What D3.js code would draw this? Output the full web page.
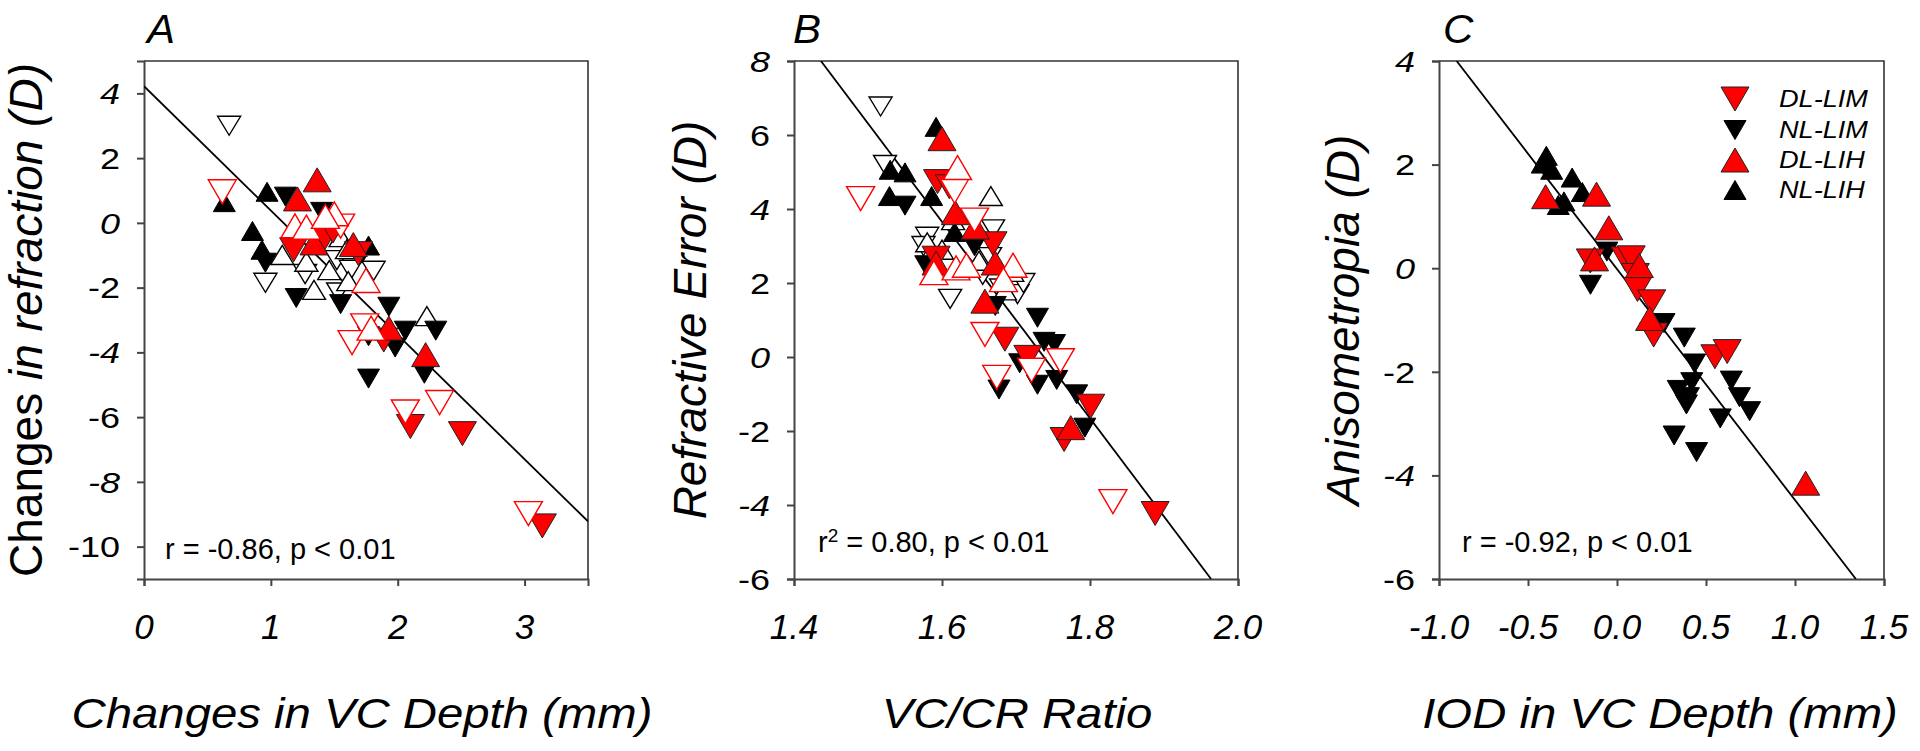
<!DOCTYPE html>
<html><head><meta charset="utf-8">
<script src="https://cdn.jsdelivr.net/npm/d3@7"></script>
<style>
body{margin:0;background:#fff;}
svg{display:block;}
text{font-family:"Liberation Sans",Arial,Helvetica,sans-serif;fill:#000;}
</style>
</head><body>
<svg id="chart" width="1920" height="751"></svg>
<script>
// ---------- DATA ----------
// Panel A: Changes in VC depth (mm) vs changes in refraction (D)
const A_DL_LIM   = [[1.18,-0.83],[1.42,-0.5],[1.49,-0.25],[1.69,-0.95],[1.89,-3.62],[2.10,-6.29],[2.51,-6.51],[3.14,-9.36]];
const A_NL_LIM   = [[1.115,0.81],[1.40,0.34],[0.957,-1.23],[1.20,-2.32],[1.55,-2.51],[1.93,-2.59],[2.06,-3.33],[1.98,-3.85],[1.77,-3.5],[1.77,-4.81],[2.30,-3.33],[2.21,-4.66],[1.72,-0.95]];
const A_DL_LIH   = [[1.365,1.33],[1.21,0.74],[1.34,-0.62],[1.65,-0.67],[1.93,-3.25],[2.22,-4.07]];
const A_NL_LIH   = [[0.633,0.64],[0.97,0.96],[0.855,-0.25],[0.93,-0.83],[1.77,-0.7]];
const A_DL_LIM_o = [[0.617,0.96],[1.55,-0.1],[1.74,-3.18],[1.64,-3.70],[2.06,-5.84],[2.33,-5.55],[3.03,-8.98]];
const A_NL_LIM_o = [[0.671,3.0],[1.27,-1.58],[0.957,-1.85],[1.81,-1.48],[1.52,-1.15],[1.63,-1.45],[1.53,-2.15]];
const A_DL_LIH_o = [[1.19,-0.09],[1.28,-0.13],[1.50,0.28],[1.43,0.2],[1.75,-1.78],[1.79,-3.25]];
const A_NL_LIH_o = [[1.09,-0.99],[1.28,-1.2],[1.46,-1.46],[1.34,-2.07],[2.23,-2.88],[1.61,-1.8],[1.55,-0.44],[1.60,-0.81]];
const A_fit = [[0,4.22],[3.5,-9.22]];

// Panel B: VC/CR ratio vs refractive error (D)
const B_DL_LIM   = [[1.594,4.74],[1.61,4.6],[1.669,3.06],[1.592,2.67],[1.685,0.48],[1.716,-0.01],[1.801,-1.33],[1.765,-2.23],[1.888,-4.23]];
const B_NL_LIM   = [[1.550,4.09],[1.644,2.99],[1.578,2.48],[1.672,1.38],[1.729,1.06],[1.738,0.41],[1.752,0.35],[1.705,-0.17],[1.729,-0.75],[1.755,-0.62],[1.677,-0.88],[1.782,-1.01],[1.793,-1.91]];
const B_DL_LIH   = [[1.600,5.9],[1.618,3.9],[1.645,3.51],[1.592,2.54],[1.672,2.54],[1.658,1.51],[1.774,-1.91]];
const B_NL_LIH   = [[1.592,6.22],[1.530,5.06],[1.550,4.99],[1.529,4.35],[1.586,4.35],[1.617,3.38]];
const B_DL_LIM_o = [[1.49,4.28],[1.617,4.48],[1.644,3.70],[1.658,0.61],[1.721,-0.36],[1.760,-0.1],[1.674,-0.55],[1.831,-3.91]];
const B_NL_LIM_o = [[1.517,6.77],[1.523,5.19],[1.669,3.45],[1.655,2.22],[1.702,1.70],[1.611,1.57],[1.58,3.25],[1.575,3.0],[1.68,1.85],[1.665,2.7],[1.71,2.0]];
const B_DL_LIH_o = [[1.621,5.12],[1.589,2.28],[1.619,2.41],[1.633,2.48],[1.696,2.48],[1.683,2.09]];
const B_NL_LIH_o = [[1.666,4.35],[1.65,2.6],[1.58,3.1],[1.615,3.7],[1.685,1.8],[1.6,2.9],[1.695,2.3]];
const B_fit = [[1.4364,8],[1.9636,-6]];

// Panel C: IOD in VC depth (mm) vs anisometropia (D)
const C_DL_LIM = [[-0.15,0.14],[0.046,0.18],[0.08,0.2],[0.103,-0.14],[0.115,-0.41],[0.195,-0.65],[0.206,-1.29],[0.55,-1.71],[0.619,-1.61]];
const C_NL_LIM = [[-0.057,0.32],[-0.149,-0.32],[0.264,-1.06],[0.378,-1.34],[0.436,-1.84],[0.344,-2.35],[0.401,-2.49],[0.39,-2.63],[0.321,-3.23],[0.447,-3.55],[0.642,-2.17],[0.688,-2.49],[0.745,-2.76],[0.58,-2.9],[0.42,-2.2]];
const C_DL_LIH = [[-0.401,1.38],[-0.115,1.43],[-0.046,0.78],[-0.126,0.18],[0.126,0.05],[0.183,-0.97],[1.06,-4.15]];
const C_NL_LIH = [[-0.397,2.17],[-0.42,2.02],[-0.367,1.9],[-0.252,1.75],[-0.195,1.47],[-0.298,1.29],[-0.33,1.22]];
const C_fit = [[-0.901,4],[1.342,-6]];

// Ticks
const A_xTicks = [0,1,2,3];
const A_yTicks = [4,2,0,-2,-4,-6,-8,-10];
const B_xTicks = [1.4,1.6,1.8,2.0];
const B_yTicks = [8,6,4,2,0,-2,-4,-6];
const C_xTicks = [-1.0,-0.5,0.0,0.5,1.0,1.5];
const C_yTicks = [4,2,0,-2,-4,-6];

const legendNames = ["DL-LIM","NL-LIM","DL-LIH","NL-LIH"];

// ---------- DRAWING ----------
const svg = d3.select("#chart");
const TOP = 61, BOT = 579;
const hy = s => s.replace("\u2212","-");

const panels = [
  {key:"A", left:144, right:588, xd:[0,3.5], yd:[-11,5], xt:A_xTicks, yt:A_yTicks, xfmt:d3.format("d"),
   series:{rd:A_DL_LIM, bd:A_NL_LIM, ru:A_DL_LIH, bu:A_NL_LIH, ord:A_DL_LIM_o, obd:A_NL_LIM_o, oru:A_DL_LIH_o, obu:A_NL_LIH_o},
   fit:A_fit, xtitle:"Changes in VC Depth (mm)", xtitleX:362,
   ytitle:[["Changes ",false],["in refraction (D)",true]], ytitleX:42,
   stat:{x:165,y:559,parts:[["r = -0.86, p < 0.01",false]]}, labelX:147},
  {key:"B", left:794, right:1238, xd:[1.4,2.0], yd:[-6,8], xt:B_xTicks, yt:B_yTicks, xfmt:d3.format(".1f"),
   series:{rd:B_DL_LIM, bd:B_NL_LIM, ru:B_DL_LIH, bu:B_NL_LIH, ord:B_DL_LIM_o, obd:B_NL_LIM_o, oru:B_DL_LIH_o, obu:B_NL_LIH_o},
   fit:B_fit, xtitle:"VC/CR Ratio", xtitleX:1017,
   ytitle:[["Refractive Error (D)",true]], ytitleX:706,
   stat:{x:818,y:552,parts:[["r",false],["2",true],[" = 0.80, p < 0.01",false]]}, labelX:793},
  {key:"C", left:1439, right:1884, xd:[-1,1.5], yd:[-6,4], xt:C_xTicks, yt:C_yTicks, xfmt:d3.format(".1f"),
   series:{rd:C_DL_LIM, bd:C_NL_LIM, ru:C_DL_LIH, bu:C_NL_LIH},
   fit:C_fit, xtitle:"IOD in VC Depth (mm)", xtitleX:1660,
   ytitle:[["Anisometropia (D)",true]], ytitleX:1359,
   stat:{x:1462,y:552,parts:[["r = -0.92, p < 0.01",false]]}, labelX:1443, legend:true}
];

function tri(w,h,up){
  return up ? `M0,${-h/2}L${w/2},${h/2}L${-w/2},${h/2}Z` : `M0,${h/2}L${w/2},${-h/2}L${-w/2},${-h/2}Z`;
}
const styles = {
  obd:{w:23,h:19,up:false,fill:"#fff",stroke:"#000",sw:1.4},
  obu:{w:23,h:19,up:true, fill:"#fff",stroke:"#000",sw:1.4},
  bd: {w:22,h:19,up:false,fill:"#000",stroke:"#000",sw:1},
  bu: {w:22,h:19,up:true, fill:"#000",stroke:"#000",sw:1},
  rd: {w:28,h:24,up:false,fill:"#ff0000",stroke:"#222",sw:1},
  ru: {w:28,h:24,up:true, fill:"#ff0000",stroke:"#222",sw:1},
  ord:{w:28,h:24,up:false,fill:"#fff",stroke:"#ff0000",sw:1.4},
  oru:{w:28,h:24,up:true, fill:"#fff",stroke:"#ff0000",sw:1.4}
};
const drawOrder = ["obd","obu","bd","bu","rd","ru","ord","oru"];

function txt(g,x,y,s,o){
  o=o||{};
  const t=g.append("text")
    .attr("transform",`translate(${x},${y}) scale(${o.sx||1},1)`+(o.rot?` rotate(${o.rot})`:""))
    .attr("font-size",o.size||20)
    .attr("text-anchor",o.anchor||"start");
  if(o.dy) t.attr("dy",o.dy);
  if(typeof s==="string"){ t.text(s).attr("font-style",o.italic?"italic":"normal"); }
  else { s.forEach(p=>{ t.append("tspan").text(p[0]).attr("font-style",p[1]?"italic":"normal"); }); }
  return t;
}

panels.forEach((p,pi)=>{
  const x=d3.scaleLinear().domain(p.xd).range([p.left,p.right]);
  const y=d3.scaleLinear().domain(p.yd).range([BOT,TOP]);
  const g=svg.append("g");
  const clipId="clip"+p.key;
  svg.append("clipPath").attr("id",clipId).append("rect")
    .attr("x",p.left).attr("y",TOP).attr("width",p.right-p.left).attr("height",BOT-TOP);

  // frame (top & right)
  g.append("path").attr("d",`M${p.left},${TOP}H${p.right}V${BOT}`)
    .attr("fill","none").attr("stroke","#333").attr("stroke-width",1.6);

  // axes
  const ax=g.append("g").attr("transform",`translate(0,${BOT})`)
    .call(d3.axisBottom(x).tickValues(p.xt).tickSize(7).tickFormat(""));
  const ay=g.append("g").attr("transform",`translate(${p.left},0)`)
    .call(d3.axisLeft(y).tickValues(p.yt).tickSize(7).tickFormat(""));
  [ax,ay].forEach(a=>{
    a.select(".domain").attr("stroke","#444").attr("stroke-width",2);
    a.selectAll(".tick line").attr("stroke","#444").attr("stroke-width",2);
  });

  // tick labels
  p.xt.forEach(v=>{ txt(g,x(v),639,hy(p.xfmt(v)),{size:35,anchor:"middle",italic:true}); });
  p.yt.forEach((v,i)=>{ txt(g,p.left-24,y(v),String(v),{size:30,anchor:"end",italic:i%2===0,sx:1.2,dy:"0.36em"}); });

  // titles
  txt(g,p.xtitleX,728,p.xtitle,{size:43,anchor:"middle",italic:true,sx:1.1});
  txt(g,p.ytitleX,320,p.ytitle,{size:46,anchor:"middle",rot:-90});
  txt(g,p.labelX,43,p.key,{size:40,italic:true,sx:1.05});

  // stat text
  const st=g.append("text").attr("transform",`translate(${p.stat.x},${p.stat.y})`).attr("font-size",29);
  p.stat.parts.forEach(part=>{
    if(part[1]) st.append("tspan").text(part[0]).attr("font-size",19).attr("baseline-shift","super");
    else st.append("tspan").text(part[0]);
  });

  // regression line
  g.append("path").datum(p.fit)
    .attr("d",d3.line().x(d=>x(d[0])).y(d=>y(d[1])))
    .attr("clip-path",`url(#${clipId})`)
    .attr("fill","none").attr("stroke","#000").attr("stroke-width",1.8);

  // points
  drawOrder.forEach(k=>{
    const data=p.series[k]; if(!data) return;
    const s=styles[k];
    g.append("g").selectAll("path").data(data).join("path")
      .attr("transform",d=>`translate(${x(d[0])},${y(d[1])})`)
      .attr("d",tri(s.w,s.h,s.up))
      .attr("fill",s.fill).attr("stroke",s.stroke).attr("stroke-width",s.sw);
  });

  // legend
  if(p.legend){
    const keys=["rd","bd","ru","bu"], rows=[99,130,160,190];
    keys.forEach((k,i)=>{
      const s=styles[k];
      g.append("path").attr("transform",`translate(1735,${rows[i]})`).attr("d",tri(s.w,s.h,s.up))
        .attr("fill",s.fill).attr("stroke",s.stroke).attr("stroke-width",s.sw);
      txt(g,1779,rows[i],legendNames[i],{size:23,italic:true,sx:1.18,dy:"0.36em"});
    });
  }
});
</script>
</body></html>
